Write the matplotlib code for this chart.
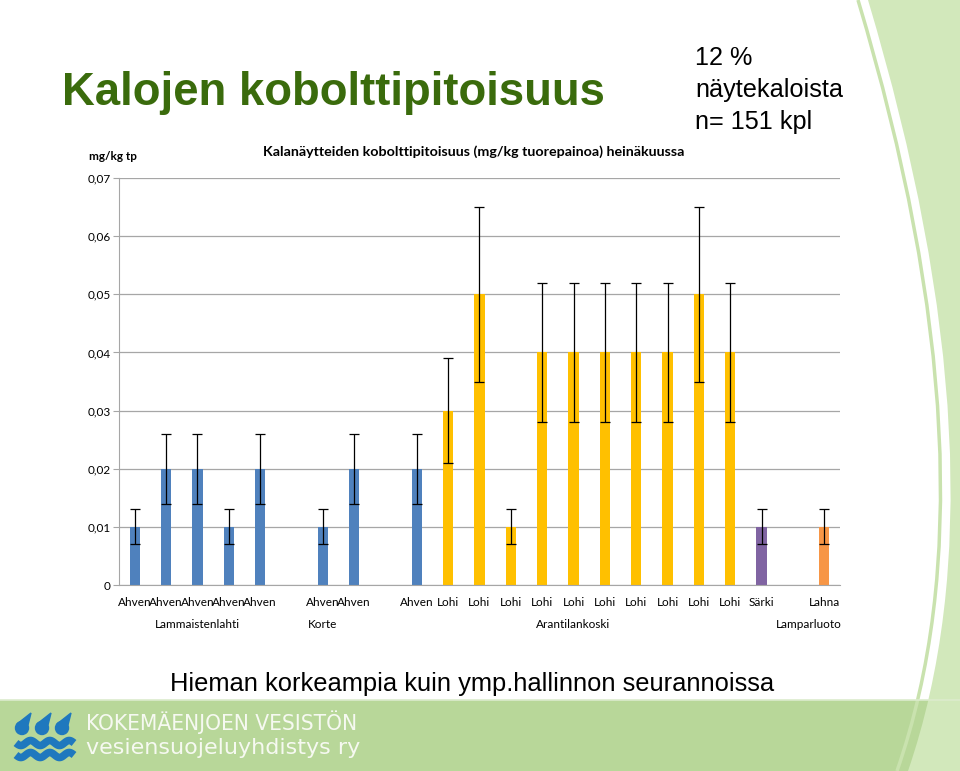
import numpy as np
import matplotlib
matplotlib.use("Agg")
import matplotlib.pyplot as plt
from matplotlib.path import Path
from matplotlib.patches import PathPatch, Rectangle

# --- data ---
categories = (["Ahven"] * 5 + ["", "Ahven", "Ahven"] + ["", "Ahven"]
              + ["Lohi"] * 10 + ["Särki"] + ["", "Lahna"])
values = [0.01, 0.02, 0.02, 0.01, 0.02,
          np.nan, 0.01, 0.02,
          np.nan, 0.02,
          0.03, 0.05, 0.01, 0.04, 0.04, 0.04, 0.04, 0.04, 0.05, 0.04,
          0.01,
          np.nan, 0.01]
errors = [0.003, 0.006, 0.006, 0.003, 0.006,
          np.nan, 0.003, 0.006,
          np.nan, 0.006,
          0.009, 0.015, 0.003, 0.012, 0.012, 0.012, 0.012, 0.012, 0.015, 0.012,
          0.003,
          np.nan, 0.003]
group_names = ["Lammaistenlahti", "Korte", "Arantilankoski", "Lamparluoto"]
group_sizes = [5, 3, 13, 2]
yticks = [0, 0.01, 0.02, 0.03, 0.04, 0.05, 0.06, 0.07]
ytick_labels = ["0", "0,01", "0,02", "0,03", "0,04", "0,05", "0,06", "0,07"]
note_lines = ["12 %", "näytekaloista", "n= 151 kpl"]

species_colors = {"Ahven": "#4f81bd", "Lohi": "#ffc000",
                  "Särki": "#8064a2", "Lahna": "#f79646", "": "none"}

W, H = 960, 771
fig = plt.figure(figsize=(W / 100, H / 100), dpi=100)
fig.patch.set_facecolor("white")

# background decoration in pixel coordinates
bg = fig.add_axes([0, 0, 1, 1], zorder=0)
bg.set_xlim(0, W); bg.set_ylim(H, 0); bg.axis("off")

band = Rectangle((0, 700), 960, 71, facecolor="#b8d799", edgecolor="none")
bg.add_patch(band)
bg.plot([0, 960], [700, 700], color="#dcebcd", lw=1.2)

def arc(p0, pm, p2):
    p1 = (2 * pm[0] - 0.5 * (p0[0] + p2[0]), 2 * pm[1] - 0.5 * (p0[1] + p2[1]))
    return p0, p1, p2

p0, p1, p2 = arc((868, 0), (949, 430), (908, 771))
fill_path = Path([p0, p1, p2, (960, 771), (960, 0), p0],
                 [Path.MOVETO, Path.CURVE3, Path.CURVE3, Path.LINETO, Path.LINETO, Path.CLOSEPOLY])
bg.add_patch(PathPatch(fill_path, facecolor="#d2e8bb", edgecolor="none"))
q0, q1, q2 = arc((858, 0), (939, 430), (897, 771))
bg.add_patch(PathPatch(Path([q0, q1, q2], [Path.MOVETO, Path.CURVE3, Path.CURVE3]),
                       facecolor="none", edgecolor="#c9e2ae", lw=2.5))

# logo: drops and waves
logo_blue = "#1f78be"
for dx in [22, 42, 62]:
    bg.add_patch(matplotlib.patches.Circle((dx, 728), 6.5, color=logo_blue, zorder=3))
    bg.add_patch(matplotlib.patches.Polygon([(dx - 5, 724), (dx + 6, 725), (dx + 9, 713)],
                                            closed=True, color=logo_blue, zorder=3))
wx = np.linspace(16, 74, 80)
for wy in [743, 755]:
    bg.plot(wx, wy + 2.5 * np.sin((wx - 16) / 58 * 3 * 2 * np.pi), color=logo_blue,
            lw=5.5, solid_capstyle="butt", zorder=3)
bg.text(86, 722, "KOKEMÄENJOEN VESISTÖN", fontsize=16.2, color="#f6f9f1",
        family="DejaVu Sans", stretch="condensed", va="center", ha="left")
bg.text(86, 748, "vesiensuojeluyhdistys ry", fontsize=16, color="#f6f9f1",
        family="DejaVu Sans", va="center", ha="left")

# texts
bg.text(62, 93, "Kalojen kobolttipitoisuus", fontsize=32.8, fontweight="bold",
        color="#3a6b0c", family="Liberation Sans", va="center", ha="left")
for yy, line in zip([58, 90, 122], note_lines):
    bg.text(695, yy, line, fontsize=18.2, color="black",
            family="Liberation Sans", va="center", ha="left")
bg.text(113, 157, "mg/kg tp", fontsize=8.5, fontweight="bold", family="Lato",
        ha="center", va="center")
bg.text(474, 152, "Kalanäytteiden kobolttipitoisuus (mg/kg tuorepainoa) heinäkuussa",
        fontsize=10.3, fontweight="bold", family="Lato", ha="center", va="center")
bg.text(472, 684, "Hieman korkeampia kuin ymp.hallinnon seurannoissa", fontsize=18.4,
        family="Liberation Sans", ha="center", va="center")

# --- chart ---
ax = fig.add_axes([119 / W, 1 - 585 / H, (840 - 119) / W, (585 - 178) / H], zorder=2)
ax.set_facecolor("none")
x = np.arange(len(categories))
colors = [species_colors[c] for c in categories]
ax.bar(x, values, width=0.33, color=colors, zorder=2)
ax.errorbar(x, values, yerr=errors, fmt="none", ecolor="black", elinewidth=0.9,
            capsize=3.5, capthick=0.9, zorder=3)

ax.set_xlim(-0.5, len(categories) - 0.5)
ax.set_ylim(0, 0.07)
ax.set_yticks(yticks)
ax.set_yticklabels(ytick_labels, family="Lato", fontsize=8.5)
ax.grid(axis="y", color="#a6a6a6", lw=0.9, zorder=0)
for s in ["top", "right"]:
    ax.spines[s].set_visible(False)
ax.spines["left"].set_color("#a6a6a6")
ax.spines["bottom"].set_color("#a6a6a6")
ax.tick_params(axis="y", length=4, color="#a6a6a6", pad=2)
ax.set_xticks(x)
ax.set_xticklabels(categories, family="Lato", fontsize=8.5)
ax.tick_params(axis="x", length=0, pad=9)

start = 0
for name, size in zip(group_names, group_sizes):
    center = start + (size - 1) / 2
    ax.text(center, -0.0068, name, family="Lato", fontsize=8.5, ha="center", va="center")
    start += size

fig.savefig("out.png", dpi=100)
